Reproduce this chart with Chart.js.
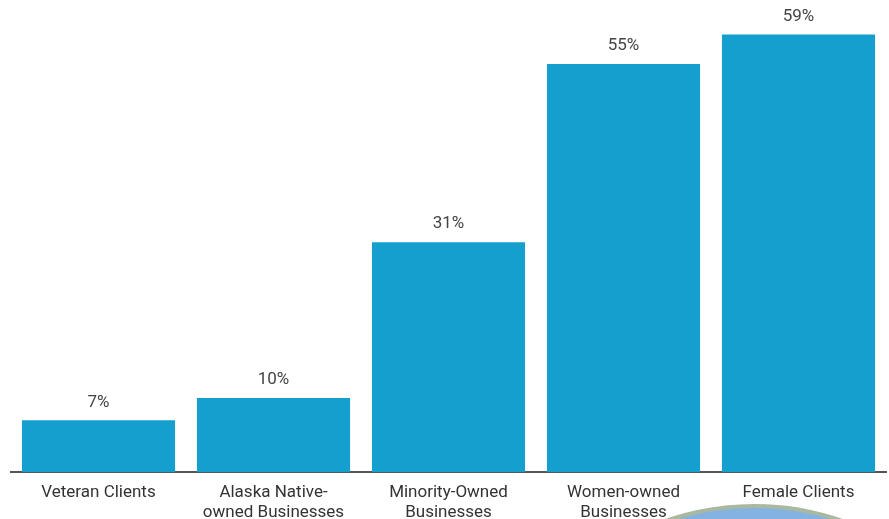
<!DOCTYPE html>
<html>
<head>
<meta charset="utf-8">
<script src="https://cdn.jsdelivr.net/npm/chart.js@4.4.0/dist/chart.umd.min.js"></script>
<style>
  html, body { margin: 0; padding: 0; background: #fff; overflow: hidden; }
  #wrap { position: relative; width: 889px; height: 519px; overflow: hidden; }
  #chart { position: absolute; left: 0; top: 0; }
  .badge {
    position: absolute; left: 484px; top: 504px; width: 540px; height: 540px;
    border-radius: 50%; background: #84b3e2; border: 4px solid #a9b8a1; box-sizing: border-box;
  }
</style>
</head>
<body>
<div id="wrap">
  <div class="badge"></div>
  <canvas id="chart" width="889" height="525"></canvas>
</div>
<script>
const categories = [
  "Veteran Clients",
  ["Alaska Native-", "owned Businesses"],
  ["Minority-Owned", "Businesses"],
  ["Women-owned", "Businesses"],
  "Female Clients",
];
const shares = [7, 10, 31, 55, 59];

const COLORS = {
  bar: "#159fce",
  axis: "#555555",
  tick: "#333333",
  value: "#444444",
};

Chart.defaults.font.family = "Roboto, 'Noto Sans', sans-serif";

// draws "xx%" above each bar
const valueLabels = {
  id: "valueLabels",
  afterDatasetsDraw(chart) {
    const { ctx } = chart;
    const meta = chart.getDatasetMeta(0);
    ctx.save();
    ctx.font = "17px Roboto, 'Noto Sans', sans-serif";
    ctx.fillStyle = COLORS.value;
    ctx.textAlign = "center";
    ctx.textBaseline = "middle";
    meta.data.forEach((bar, i) => {
      ctx.fillText(shares[i] + "%", bar.x, bar.y - 18);
    });
    ctx.restore();
  },
};

new Chart(document.getElementById("chart"), {
  type: "bar",
  data: {
    labels: categories,
    datasets: [{ data: shares, backgroundColor: COLORS.bar, categoryPercentage: 1, barPercentage: 0.875 }],
  },
  options: {
    responsive: false,
    animation: false,
    layout: { padding: { left: 11, right: 3, top: 27, bottom: 0 } },
    plugins: { legend: { display: false }, tooltip: { enabled: false } },
    scales: {
      x: {
        grid: { display: false },
        border: { display: true, color: COLORS.axis, width: 2 },
        ticks: { color: COLORS.tick, font: { size: 17 }, padding: 2, maxRotation: 0, autoSkip: false },
      },
      y: { display: false, min: 0, max: 60 },
    },
  },
  plugins: [valueLabels],
});
</script>
</body>
</html>
